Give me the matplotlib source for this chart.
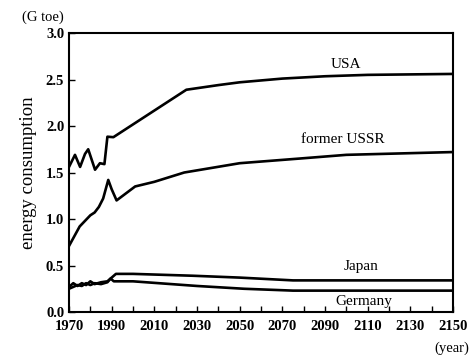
import numpy as np
import matplotlib
matplotlib.use("Agg")
import matplotlib.pyplot as plt
from matplotlib.ticker import MultipleLocator, FixedLocator

plt.rcParams['font.family'] = ['Liberation Serif', 'DejaVu Serif']

# energy consumption (G toe), historical + projected
usa_years = [1970, 1972.8, 1975.2, 1977.5, 1979, 1982.2, 1984.5, 1986.6, 1988, 1990.8,
             2025, 2040, 2050, 2070, 2090, 2110, 2150]
usa_vals = [1.56, 1.69, 1.56, 1.70, 1.75, 1.53, 1.60, 1.59, 1.885, 1.88,
            2.39, 2.44, 2.47, 2.51, 2.535, 2.55, 2.56]

ussr_years = [1970, 1975, 1980, 1982, 1984, 1986, 1988.4, 1990, 1992.3, 2001,
              2010, 2024, 2050, 2078, 2100, 2150]
ussr_vals = [0.71, 0.92, 1.04, 1.07, 1.13, 1.22, 1.42, 1.32, 1.20, 1.35,
             1.40, 1.50, 1.60, 1.65, 1.69, 1.72]

japan_years = [1970, 1972, 1974, 1976, 1978, 1980, 1982, 1985, 1988, 1989.5, 1992,
               2000, 2028, 2050, 2075, 2150]
japan_vals = [0.27, 0.31, 0.28, 0.31, 0.29, 0.33, 0.30, 0.32, 0.33, 0.36, 0.41,
              0.41, 0.39, 0.37, 0.34, 0.34]

germany_years = [1970, 1972, 1974, 1976, 1978, 1980, 1982, 1985, 1988, 1989.5, 1991,
                 2000, 2012, 2030, 2052, 2075, 2150]
germany_vals = [0.25, 0.27, 0.29, 0.28, 0.31, 0.29, 0.31, 0.30, 0.32, 0.36, 0.33,
                0.33, 0.31, 0.28, 0.25, 0.23, 0.23]

year_ticks = list(range(1970, 2151, 20))

labels = [("USA", 2100, 2.66), ("former USSR", 2098.5, 1.85),
          ("Japan", 2107, 0.49), ("Germany", 2108, 0.11)]

fig = plt.figure(figsize=(4.72, 3.55), dpi=100)
ax = fig.add_axes([0.1462, 0.1211, 0.8136, 0.7859])

for yrs, vals in [(usa_years, usa_vals), (ussr_years, ussr_vals),
                  (japan_years, japan_vals), (germany_years, germany_vals)]:
    ax.plot(yrs, vals, color='black', lw=1.9, solid_joinstyle='round')

for name, x, y in labels:
    ax.text(x, y, name, ha='center', va='center', fontsize=11)

ax.set_xlim(1970, 2150)
ax.set_ylim(0, 3.0)
ax.xaxis.set_major_locator(FixedLocator(year_ticks))
ax.xaxis.set_minor_locator(MultipleLocator(10))
ax.yaxis.set_major_locator(MultipleLocator(0.5))
ax.yaxis.set_major_formatter(plt.FormatStrFormatter('%.1f'))
ax.tick_params(which='both', direction='in', length=4, width=1, top=False, right=False)
ax.tick_params(axis='x', pad=6)
for lab in ax.get_xticklabels() + ax.get_yticklabels():
    lab.set_fontsize(10.5)
    lab.set_fontweight('bold')
for sp in ax.spines.values():
    sp.set_linewidth(1.5)

ax.set_ylabel('energy consumption', fontsize=13.5, labelpad=6)
fig.text(43 / 472, 1 - 17 / 355, '(G toe)', ha='center', va='center', fontsize=10.5)
fig.text(452 / 472, 1 - 348 / 355, '(year)', ha='center', va='center', fontsize=10.5)

fig.savefig('out.png', dpi=100)
